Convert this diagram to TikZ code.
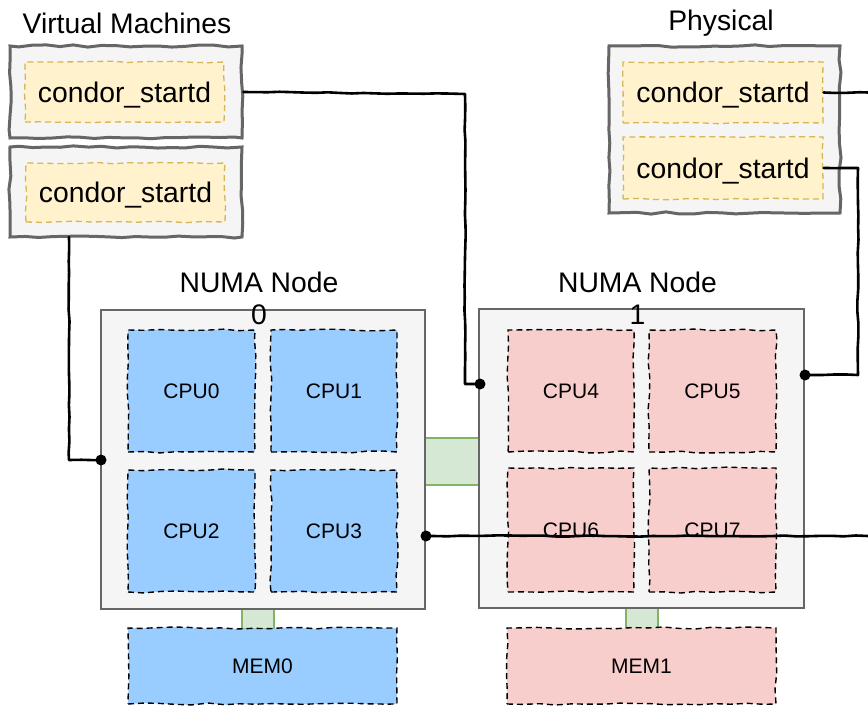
\documentclass[tikz,border=0pt]{standalone}
\usepackage{fontspec}
\setmainfont{Liberation Sans}
\usetikzlibrary{decorations.pathmorphing}
\definecolor{boxgray}{HTML}{F5F5F5}
\definecolor{edgegray}{HTML}{666666}
\definecolor{ylwfill}{HTML}{FFF2CC}
\definecolor{ylwedge}{HTML}{D6B656}
\definecolor{bluefill}{HTML}{99CCFF}
\definecolor{pinkfill}{HTML}{F8CECC}
\definecolor{grnfill}{HTML}{D5E8D4}
\definecolor{grnedge}{HTML}{82B366}
\begin{document}
\pgfmathsetseed{7}
\begin{tikzpicture}[x=1pt,y=-1pt,
  bigtext/.style={font=\fontsize{28.3}{32}\selectfont, align=center, inner sep=0pt},
  cputext/.style={font=\fontsize{21}{24}\selectfont},
  hostbox/.style={draw=edgegray, fill=boxgray, line width=3pt, inner sep=0pt,
    decorate, decoration={random steps, segment length=14pt, amplitude=1.1pt}},
  startdbox/.style={draw=ylwedge, fill=ylwfill, line width=1.3pt, dash pattern=on 6pt off 4pt,
    inner sep=0pt, text depth=0pt, font=\fontsize{28.3}{33}\selectfont,
    decorate, decoration={random steps, segment length=16pt, amplitude=0.8pt}},
  numabox/.style={draw=edgegray, fill=boxgray, line width=1.3pt, inner sep=0pt},
  cpubox/.style={draw=black, line width=1.4pt, dash pattern=on 6pt off 4pt, inner sep=0pt,
    cputext, decorate, decoration={random steps, segment length=16pt, amplitude=1pt}},
  bluebox/.style={cpubox, fill=bluefill},
  pinkbox/.style={cpubox, fill=pinkfill},
  linkbox/.style={draw=grnedge, fill=grnfill, line width=1.2pt, inner sep=0pt},
  wire/.style={draw=black, line width=2.6pt, line join=round, line cap=round,
    decorate, decoration={random steps, segment length=12pt, amplitude=0.6pt}},
  dot/.style={circle, fill=black, inner sep=0pt, minimum size=11pt}
]
\useasboundingbox (0,0) rectangle (868,706);

% titles
\node[bigtext] (vmtitle) at (127,23.5) {Virtual Machines};
\node[bigtext] (phtitle) at (721,23.5) {Physical};

% host boxes
\node[hostbox, minimum width=232pt, minimum height=92pt] (vm1) at (126,92) {};
\node[startdbox, minimum width=199pt, minimum height=60pt] (vm1in) at (124.5,92) {condor\_startd};
\node[hostbox, minimum width=232pt, minimum height=90pt] (vm2) at (126,192) {};
\node[startdbox, minimum width=199pt, minimum height=59pt] (vm2in) at (125.5,192.5) {condor\_startd};
\node[hostbox, minimum width=231pt, minimum height=167pt] (phys) at (724.5,129.5) {};
\node[startdbox, minimum width=200pt, minimum height=61pt] (ph1) at (723,92.5) {condor\_startd};
\node[startdbox, minimum width=200pt, minimum height=62pt] (ph2) at (723,168) {condor\_startd};

% links (behind)
\node[linkbox, minimum width=56pt, minimum height=47pt] (qpi) at (452,461.5) {};
\node[linkbox, minimum width=32pt, minimum height=22pt] (ml0) at (258,618) {};
\node[linkbox, minimum width=32pt, minimum height=22pt] (ml1) at (642,618) {};

% NUMA nodes
\node[numabox, minimum width=324pt, minimum height=299pt] (numa0) at (263,459.5) {};
\node[numabox, minimum width=325pt, minimum height=299pt] (numa1) at (641.5,458.5) {};
\node[bigtext] (n0lbl) at (259,298) {NUMA Node\\0};
\node[bigtext] (n1lbl) at (637.5,298) {NUMA Node\\1};

% CPUs
\node[bluebox, minimum width=127pt, minimum height=122pt] (cpu0) at (191.5,391) {CPU0};
\node[bluebox, minimum width=126pt, minimum height=122pt] (cpu1) at (334,391) {CPU1};
\node[bluebox, minimum width=127pt, minimum height=122pt] (cpu2) at (191.5,531) {CPU2};
\node[bluebox, minimum width=126pt, minimum height=122pt] (cpu3) at (334,531) {CPU3};
\node[pinkbox, minimum width=126pt, minimum height=122pt] (cpu4) at (571,391) {CPU4};
\node[pinkbox, minimum width=127pt, minimum height=122pt] (cpu5) at (712.5,391) {CPU5};
\node[pinkbox, minimum width=126pt, minimum height=124pt] (cpu6) at (571,530) {CPU6};
\node[pinkbox, minimum width=127pt, minimum height=124pt] (cpu7) at (712.5,530) {CPU7};

% memory
\node[bluebox, minimum width=269pt, minimum height=76pt] (mem0) at (262.5,666) {MEM0};
\node[pinkbox, minimum width=269pt, minimum height=76pt] (mem1) at (641.5,666) {MEM1};

% connector points
\node[dot] (d1) at (480,384) {};
\node[dot] (d2) at (101,460) {};
\node[dot] (d3) at (805,375) {};
\node[dot] (d4) at (426,536) {};
\coordinate (k1) at (465,94);
\coordinate (k2) at (69,237);
\coordinate (k4) at (858,168);
\coordinate (e1) at (868,92.5);
\coordinate (e2) at (868,536);

% connectors
\path[wire] (vm1.east) -- (k1) |- (d1.center);
\path[wire] (k2) |- (d2.center);
\path[wire] (ph1.east) -- (e1);
\path[wire] (ph2.east) -- (k4) |- (d3.center);
\path[wire] (e2) -- (d4.center);
\end{tikzpicture}
\end{document}
